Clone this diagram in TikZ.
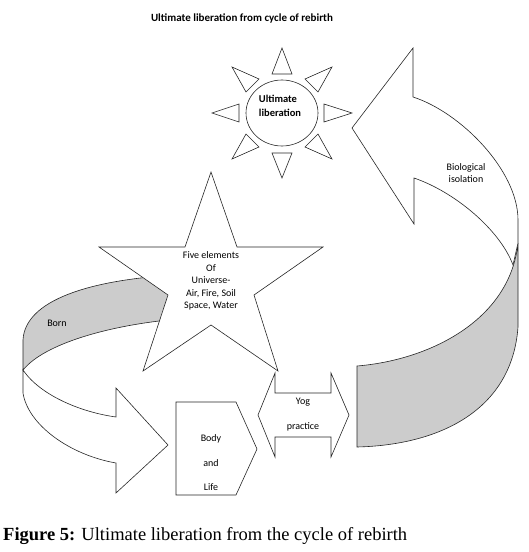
\documentclass[tikz,border=0pt]{standalone}
\usepackage{fontspec}
\setmainfont{Carlito}
\newfontfamily\captionserif{Liberation Serif}
\usetikzlibrary{calc}

\tikzset{
  shape line/.style={draw=black!85, line width=0.6pt, fill=white, line join=miter},
  back face/.style={draw=black!85, line width=0.6pt, fill=black!20},
  label text/.style={font=\fontsize{10}{12.5}\selectfont, align=center, inner sep=0pt},
}

\begin{document}
\begin{tikzpicture}[x=1pt, y=-1pt]
  \useasboundingbox (0,0) rectangle (529,552);

  % Coordinates
  \coordinate (sun) at (282,113);
  % right ribbon arrow
  \coordinate (R1) at (413,48);
  \coordinate (R2) at (352,128);
  \coordinate (R3) at (414,224);
  \coordinate (R4) at (414,178);
  \coordinate (R5) at (513,265);
  \coordinate (R6) at (518,243);
  \coordinate (R7) at (518,220);
  \coordinate (R8) at (413,97);
  \coordinate (R9) at (518,327);
  \coordinate (R10) at (357,447);
  \coordinate (R11) at (357,366);
  % left ribbon arrow
  \coordinate (L1) at (175,275);
  \coordinate (L2) at (23,340);
  \coordinate (L3) at (23,370);
  \coordinate (L4) at (168,320);
  \coordinate (L5) at (23,393);
  \coordinate (L6) at (116,463);
  \coordinate (L7) at (116,493);
  \coordinate (L8) at (168,445);
  \coordinate (L9) at (116,388);
  \coordinate (L10) at (116,417);

  % Drawing
  % sun rays
  \filldraw[shape line] (282,48) -- (292,74) -- (272,74) -- cycle;
  \filldraw[shape line] (282,178) -- (292,153) -- (272,153) -- cycle;
  \filldraw[shape line] (212,113) -- (239,104) -- (239,122) -- cycle;
  \filldraw[shape line] (352,113) -- (324,104) -- (324,122) -- cycle;
  \filldraw[shape line] (232,67) -- (259,79) -- (246,92) -- cycle;
  \filldraw[shape line] (332,67) -- (305,79) -- (318,92) -- cycle;
  \filldraw[shape line] (232,159) -- (246,134) -- (259,147) -- cycle;
  \filldraw[shape line] (332,159) -- (318,134) -- (305,147) -- cycle;
  \filldraw[shape line] (sun) ellipse [x radius=36, y radius=33];

  % right arrow
  \filldraw[back face] (R11) -- (R10) .. controls (440,445) and (512,410) .. (R9)
    -- (R6) .. controls (510,320) and (430,360) .. (R11) -- cycle;
  \filldraw[shape line] (R8) -- (R1) -- (R2) -- (R3) -- (R4)
    .. controls (455,192) and (500,230) .. (R5) -- (R6) -- (R7)
    .. controls (518,170) and (460,112) .. (R8) -- cycle;

  % left arrow
  \filldraw[back face] (L1) .. controls (90,280) and (25,300) .. (L2) -- (L3)
    .. controls (45,343) and (110,326) .. (L4) -- cycle;
  \filldraw[shape line] (L3) -- (L5) .. controls (28,425) and (70,455) .. (L6)
    -- (L7) -- (L8) -- (L9) -- (L10) .. controls (80,412) and (40,395) .. (L3) -- cycle;

  % star
  \filldraw[shape line] (211,172) -- (237,247) -- (323,247) -- (254,295) -- (278,371)
    -- (211,325) -- (143,371) -- (168,295) -- (99,247) -- (185,247) -- cycle;

  % body box and yog arrow
  \filldraw[shape line] (176,402) -- (236,402) -- (257,449) -- (236,495) -- (176,495) -- cycle;
  \filldraw[shape line] (258,415) -- (275,373) -- (275,393) -- (331,393) -- (331,373)
    -- (349,415) -- (331,457) -- (331,437) -- (275,437) -- (275,457) -- cycle;

  % Labels
  \node[label text, font=\bfseries\fontsize{11}{12}\selectfont] (title) at (242,18) {Ultimate liberation from cycle of rebirth};
  \node[label text, align=left, font=\bfseries\fontsize{10.5}{14}\selectfont] (sunlabel) at (280,106) {Ultimate\\liberation};
  \node[label text] (born) at (57,323) {Born};
  \node[label text, font=\fontsize{10}{12}\selectfont] (bio) at (466,173) {Biological\\isolation};
  \node[label text] (elements) at (211,281) {Five elements\\Of\\Universe-\\Air, Fire, Soil\\Space, Water};
  \node[label text, font=\fontsize{10}{24.5}\selectfont] (body) at (211,463) {Body\\and\\Life};
  \node[label text, font=\fontsize{10}{25}\selectfont] (yog) at (303,415) {Yog\\practice};
  \node[anchor=base west, inner sep=0pt, font=\captionserif\fontsize{18.5}{20}\selectfont] (caption) at (3,540)
    {\textbf{Figure 5:} Ultimate liberation from the cycle of rebirth};
\end{tikzpicture}
\end{document}
